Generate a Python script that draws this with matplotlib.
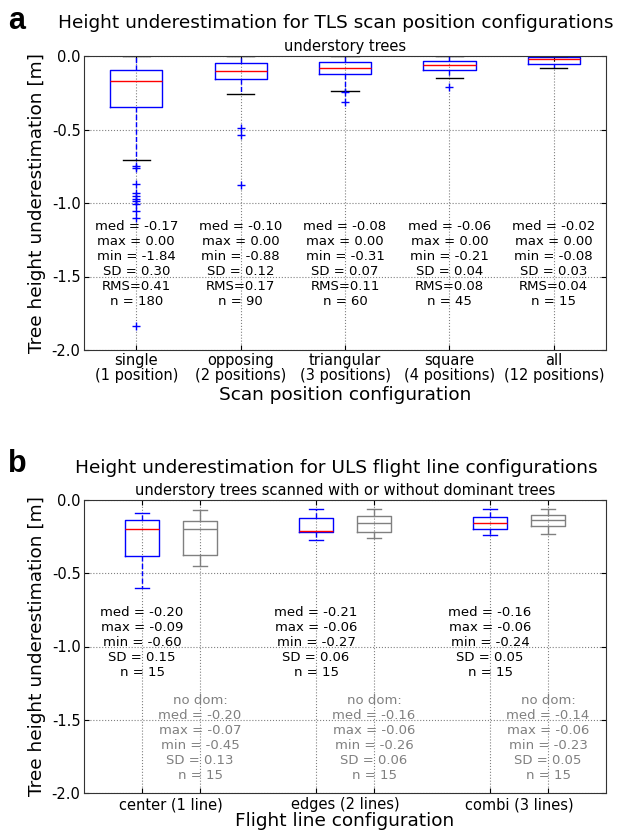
#!/usr/bin/env python3
"""
Height underestimation boxplots for TLS and ULS configurations
"""
import matplotlib
matplotlib.use('Agg')
import matplotlib.pyplot as plt

plt.rcParams['axes.unicode_minus'] = False
plt.rcParams['font.family'] = 'DejaVu Sans'

# ---- panel a: TLS scan position configurations ----
tls_labels = ['single\n(1 position)', 'opposing\n(2 positions)', 'triangular\n(3 positions)',
              'square\n(4 positions)', 'all\n(12 positions)']
tls_q1 = [-0.35, -0.154, -0.12, -0.095, -0.057]
tls_med = [-0.17, -0.10, -0.08, -0.06, -0.02]
tls_q3 = [-0.095, -0.05, -0.043, -0.032, -0.009]
tls_whislo = [-0.71, -0.26, -0.235, -0.15, -0.08]
tls_whishi = [0.0, 0.0, 0.0, 0.0, 0.0]
tls_fliers = [[-0.75, -0.765, -0.87, -0.93, -0.95, -0.975, -0.985, -1.01, -1.055, -1.10, -1.84],
              [-0.49, -0.54, -0.88],
              [-0.245, -0.31],
              [-0.21],
              []]
# printed statistics
tls_stat_med = [-0.17, -0.10, -0.08, -0.06, -0.02]
tls_stat_max = [0.00, 0.00, 0.00, 0.00, 0.00]
tls_stat_min = [-1.84, -0.88, -0.31, -0.21, -0.08]
tls_stat_sd = [0.30, 0.12, 0.07, 0.04, 0.03]
tls_stat_rms = [0.41, 0.17, 0.11, 0.08, 0.04]
tls_n = [180, 90, 60, 45, 15]

# ---- panel b: ULS flight line configurations ----
uls_labels = ['center (1 line)', 'edges (2 lines)', 'combi (3 lines)']
dom_q1 = [-0.38, -0.218, -0.196]
dom_med = [-0.20, -0.21, -0.16]
dom_q3 = [-0.137, -0.125, -0.118]
dom_whislo = [-0.60, -0.27, -0.24]
dom_whishi = [-0.09, -0.06, -0.06]
nodom_q1 = [-0.375, -0.221, -0.175]
nodom_med = [-0.20, -0.155, -0.137]
nodom_q3 = [-0.145, -0.111, -0.10]
nodom_whislo = [-0.45, -0.26, -0.23]
nodom_whishi = [-0.07, -0.06, -0.06]
# printed statistics
dom_stat_med = [-0.20, -0.21, -0.16]
dom_stat_max = [-0.09, -0.06, -0.06]
dom_stat_min = [-0.60, -0.27, -0.24]
dom_stat_sd = [0.15, 0.06, 0.05]
dom_n = [15, 15, 15]
nodom_stat_med = [-0.20, -0.16, -0.14]
nodom_stat_max = [-0.07, -0.06, -0.06]
nodom_stat_min = [-0.45, -0.26, -0.23]
nodom_stat_sd = [0.13, 0.06, 0.05]
nodom_n = [15, 15, 15]


def make_stats(q1, med, q3, lo, hi, fliers=None):
    out = []
    for i in range(len(med)):
        out.append(dict(q1=q1[i], med=med[i], q3=q3[i], whislo=lo[i], whishi=hi[i],
                        fliers=fliers[i] if fliers else []))
    return out


def style_axes(ax):
    ax.set_ylim(-2.0, 0.0)
    ax.set_yticks([0.0, -0.5, -1.0, -1.5, -2.0])
    ax.grid(True, linestyle=':', color='gray', linewidth=0.8)
    ax.tick_params(direction='in', top=True, right=True, labelsize=10.5, pad=2.5)
    ax.set_ylabel('Tree height underestimation [m]', fontsize=13.3)
    for sp in ax.spines.values():
        sp.set_color('#333333')


fig = plt.figure(figsize=(6.19, 8.34), dpi=100)
W, H = 619, 834
ax1 = fig.add_axes([84 / W, 1 - 350 / H, 522 / W, 294 / H])
ax2 = fig.add_axes([84 / W, 1 - 793 / H, 522 / W, 293 / H])

# panel a
pos_a = list(range(1, len(tls_labels) + 1))
ax1.bxp(make_stats(tls_q1, tls_med, tls_q3, tls_whislo, tls_whishi, tls_fliers),
        positions=pos_a, widths=0.5, capwidths=0.26, manage_ticks=False,
        boxprops=dict(color='blue'), whiskerprops=dict(color='blue', linestyle='--'),
        capprops=dict(color='black'), medianprops=dict(color='red'),
        flierprops=dict(marker='+', markeredgecolor='blue', markersize=6, linestyle='none'))
ax1.set_xlim(0.5, len(tls_labels) + 0.5)
ax1.set_xticks(pos_a)
ax1.set_xticklabels(tls_labels, linespacing=1.0)
style_axes(ax1)
ax1.set_xlabel('Scan position configuration', fontsize=13.3, labelpad=2)

for i, p in enumerate(pos_a):
    txt = (f'med = {tls_stat_med[i]:.2f}\nmax = {tls_stat_max[i]:.2f}\nmin = {tls_stat_min[i]:.2f}\n'
           f'SD = {tls_stat_sd[i]:.2f}\nRMS={tls_stat_rms[i]:.2f}\nn = {tls_n[i]}')
    ax1.text(p, -1.415, txt, ha='center', va='center', fontsize=9.5)

# panel b
pos_dom = [3 * i + 1 for i in range(len(uls_labels))]
pos_nodom = [3 * i + 2 for i in range(len(uls_labels))]
ax2.bxp(make_stats(dom_q1, dom_med, dom_q3, dom_whislo, dom_whishi),
        positions=pos_dom, widths=0.6, capwidths=0.23, manage_ticks=False, showfliers=False,
        boxprops=dict(color='blue'), whiskerprops=dict(color='blue', linestyle='--'),
        capprops=dict(color='blue'), medianprops=dict(color='red'))
ax2.bxp(make_stats(nodom_q1, nodom_med, nodom_q3, nodom_whislo, nodom_whishi),
        positions=pos_nodom, widths=0.6, capwidths=0.23, manage_ticks=False, showfliers=False,
        boxprops=dict(color='gray'), whiskerprops=dict(color='gray'),
        capprops=dict(color='gray'), medianprops=dict(color='gray'))
ax2.set_xlim(0, 3 * len(uls_labels))
ax2.set_xticks(sorted(pos_dom + pos_nodom))
ax2.set_xticklabels([])
ax2.set_xticks([3 * i + 1.5 for i in range(len(uls_labels))], minor=True)
ax2.set_xticklabels(uls_labels, minor=True)
style_axes(ax2)
ax2.tick_params(axis='x', which='minor', length=0, labelsize=10.5, pad=3)
ax2.set_xlabel('Flight line configuration', fontsize=13.3, labelpad=0)

for i in range(len(uls_labels)):
    txt = (f'med = {dom_stat_med[i]:.2f}\nmax = {dom_stat_max[i]:.2f}\nmin = {dom_stat_min[i]:.2f}\n'
           f'SD = {dom_stat_sd[i]:.2f}\nn = {dom_n[i]}')
    ax2.text(pos_dom[i], -0.97, txt, ha='center', va='center', fontsize=9.5)
    txt = (f'no dom:\nmed = {nodom_stat_med[i]:.2f}\nmax = {nodom_stat_max[i]:.2f}\n'
           f'min = {nodom_stat_min[i]:.2f}\nSD = {nodom_stat_sd[i]:.2f}\nn = {nodom_n[i]}')
    ax2.text(pos_nodom[i], -1.625, txt, ha='center', va='center', fontsize=9.5, color='gray')

# titles and panel letters
fig.text(336 / W, 1 - 23 / H, 'Height underestimation for TLS scan position configurations',
         ha='center', va='center', fontsize=13.3)
fig.text(345 / W, 1 - 47 / H, 'understory trees', ha='center', va='center', fontsize=10.5)
fig.text(336 / W, 1 - 468 / H, 'Height underestimation for ULS flight line configurations',
         ha='center', va='center', fontsize=13.3)
fig.text(345 / W, 1 - 490 / H, 'understory trees scanned with or without dominant trees',
         ha='center', va='center', fontsize=10.5)
fig.text(8 / W, 1 - 21 / H, 'a', ha='left', va='center', fontsize=22, fontweight='bold',
         family='Liberation Sans')
fig.text(8 / W, 1 - 464 / H, 'b', ha='left', va='center', fontsize=22, fontweight='bold',
         family='Liberation Sans')

fig.savefig('out.png', dpi=100)
